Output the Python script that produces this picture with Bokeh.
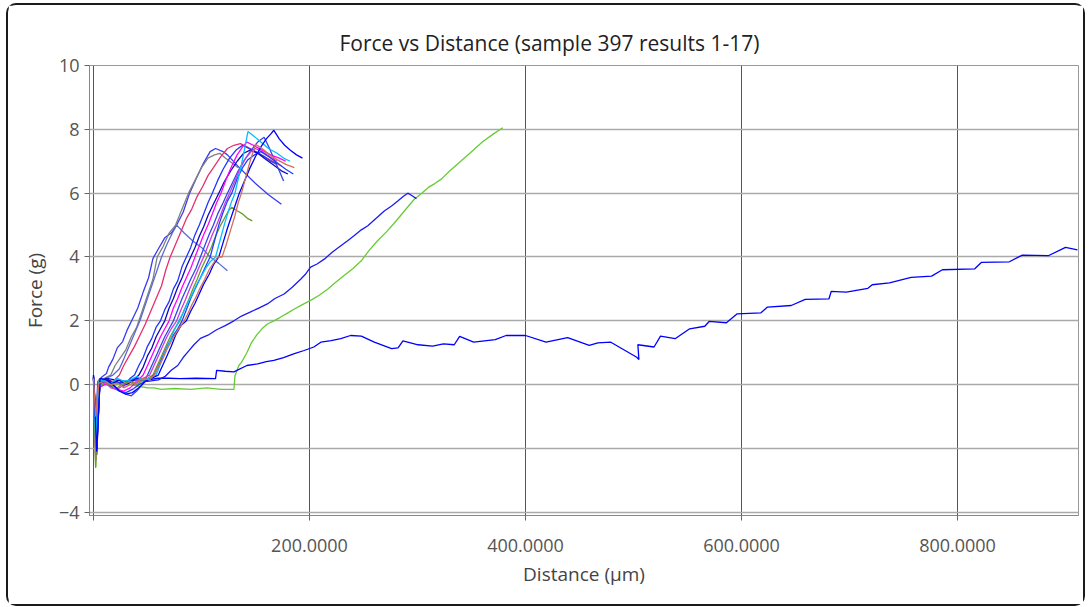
from bokeh.plotting import figure
from bokeh.models import ColumnDataSource, FixedTicker, PrintfTickFormatter, Range1d
from bokeh.embed import file_html
from bokeh.resources import INLINE

TITLE = "Force vs Distance (sample 397 results 1-17)"
X_LABEL = "Distance (µm)"
Y_LABEL = "Force (g)"
X_TICKS = [0, 200, 400, 600, 800]
Y_TICKS = [-4, -2, 0, 2, 4, 6, 8, 10]

# Each result: list of (distance µm, force g)
r01 = [(0, 0.2), (2, -1.2), (4, 0.1), (8, 0.25), (12, 0.35), (14, 0.55), (18, 0.8), (22, 1.15), (27, 1.35),
       (31, 1.7), (36, 2.05), (41, 2.4), (46, 2.9), (51, 3.35), (55, 3.95), (60, 4.25), (66, 4.6), (72, 4.75),
       (77, 5.0), (83, 5.4), (89, 6.0), (95, 6.45), (102, 6.95), (108, 7.3), (113, 7.4), (120, 7.3), (124, 7.2),
       (135, 6.8), (150, 6.3), (162, 5.95), (174, 5.65)]
r02 = [(0, 0.25), (2, -0.9), (5, 0.15), (10, 0.2), (16, 0.3), (20, 0.6), (25, 0.85), (30, 1.1), (35, 1.5),
       (40, 1.8), (45, 2.3), (50, 2.8), (55, 3.3), (59, 4.0), (64, 4.3), (70, 4.75), (76, 5.0), (82, 5.5),
       (88, 6.0), (94, 6.4), (100, 6.8), (106, 7.1), (112, 7.2), (117, 7.25), (122, 7.1), (128, 6.95), (134, 6.8)]
r03 = [(0, 0.2), (3, -1.5), (6, 0.1), (12, 0.2), (18, 0.3), (24, 0.5), (28, 0.8), (33, 1.2), (38, 1.6),
       (43, 2.0), (48, 2.5), (53, 3.0), (58, 3.5), (63, 4.0), (68, 4.4), (73, 4.75), (77, 5.0), (84, 4.75),
       (92, 4.5), (100, 4.3), (108, 4.0), (116, 3.8), (124, 3.57)]
r04 = [(0, 0.2), (3, -2.0), (6, 0.05), (12, 0.15), (18, 0.1), (24, 0.3), (28, 0.6), (33, 0.9), (38, 1.2),
       (43, 1.55), (48, 1.9), (53, 2.3), (58, 2.7), (63, 3.1), (67, 3.6), (71, 4.0), (76, 4.4), (81, 4.8),
       (86, 5.2), (91, 5.5), (96, 5.9), (101, 6.2), (106, 6.55), (112, 6.85), (118, 7.15), (124, 7.4),
       (130, 7.5), (136, 7.55), (142, 7.45), (150, 7.3), (158, 7.15), (166, 7.0), (174, 6.85)]
r05 = [(0, 0.2), (2, -1.6), (5, 0.0), (10, 0.15), (16, 0.05), (22, 0.1), (28, -0.05), (34, 0.2), (38, 0.3),
       (42, 0.6), (46, 0.85), (50, 1.2), (54, 1.45), (58, 1.8), (62, 2.0), (66, 2.35), (70, 2.6), (74, 3.0),
       (78, 3.25), (82, 3.7), (86, 4.0), (90, 4.3), (94, 4.7), (98, 5.0), (102, 5.35), (106, 5.7), (110, 6.0),
       (115, 6.4), (120, 6.75), (126, 7.1), (132, 7.35), (138, 7.5), (144, 7.4), (150, 7.3), (158, 7.15),
       (164, 7.0), (170, 6.9)]
r06 = [(0, 0.25), (3, -2.2), (6, 0.1), (12, 0.2), (18, 0.05), (24, 0.15), (30, 0.0), (36, 0.1), (42, 0.3),
       (46, 0.55), (50, 0.9), (54, 1.15), (58, 1.5), (62, 1.75), (66, 2.0), (70, 2.4), (74, 2.7), (78, 3.05),
       (82, 3.35), (86, 3.7), (90, 4.0), (94, 4.3), (98, 4.65), (102, 4.95), (106, 5.3), (111, 5.65), (116, 6.0),
       (121, 6.35), (127, 6.7), (133, 7.0), (139, 7.25), (145, 7.35), (152, 7.25), (160, 7.05), (168, 6.85),
       (174, 6.7), (180, 6.6)]
r07 = [(0, 0.2), (2, -2.4), (5, -0.1), (10, 0.0), (16, 0.05), (22, -0.15), (28, -0.2), (34, -0.1), (40, 0.1),
       (46, 0.3), (50, 0.6), (54, 0.9), (58, 1.2), (62, 1.5), (66, 1.75), (70, 2.0), (74, 2.4), (78, 2.7),
       (82, 3.05), (86, 3.35), (90, 3.65), (94, 4.0), (98, 4.35), (102, 4.7), (106, 5.0), (110, 5.35), (114, 5.7),
       (118, 6.0), (123, 6.45), (128, 6.85), (133, 7.2), (138, 7.45), (142, 7.6), (148, 7.5), (156, 7.35),
       (164, 7.2), (172, 7.1), (178, 7.0)]
r08 = [(0, 0.3), (3, -1.9), (6, 0.1), (12, 0.05), (18, -0.1), (24, -0.2), (30, -0.3), (35, -0.35), (40, -0.2),
       (45, 0.0), (50, 0.3), (54, 0.6), (58, 0.9), (62, 1.2), (66, 1.5), (70, 1.75), (74, 2.0), (78, 2.35),
       (82, 2.7), (86, 3.0), (90, 3.3), (95, 3.65), (99, 4.0), (103, 4.35), (107, 4.7), (111, 5.0), (115, 5.35),
       (120, 5.7), (124, 6.0), (129, 6.35), (134, 6.7), (140, 7.05), (146, 7.35), (152, 7.6), (158, 7.75),
       (163, 7.4), (168, 7.0), (172, 6.7), (176, 6.38)]
r09 = [(0, 0.15), (2, -2.0), (5, 0.0), (10, 0.1), (16, -0.1), (22, -0.15), (28, 0.0), (34, 0.1), (40, 0.05),
       (46, 0.2), (52, 0.3), (56, 0.6), (60, 0.9), (64, 1.2), (68, 1.5), (72, 1.75), (77, 2.0), (81, 2.35),
       (85, 2.65), (89, 3.0), (93, 3.3), (98, 3.7), (102, 4.0), (106, 4.35), (110, 4.7), (114, 5.0), (118, 5.35),
       (122, 5.7), (126, 6.0), (131, 6.4), (136, 6.8), (141, 7.1), (146, 7.3), (150, 7.4), (156, 7.3),
       (163, 7.15), (170, 7.0)]
r10 = [(0, 0.2), (2, -2.6), (5, -0.05), (10, 0.05), (16, 0.0), (22, -0.1), (28, 0.05), (34, 0.1), (40, 0.0),
       (46, 0.15), (50, 0.2), (55, 0.3), (59, 0.6), (63, 0.9), (67, 1.2), (71, 1.5), (75, 1.75), (80, 2.0),
       (84, 2.35), (88, 2.65), (92, 3.0), (96, 3.3), (100, 3.65), (105, 4.0), (109, 4.3), (113, 4.65),
       (117, 4.95), (121, 5.2), (125, 5.45), (128, 5.56), (133, 5.45), (138, 5.35), (143, 5.2), (147, 5.13)]
r11 = [(0, 0.25), (3, -1.3), (6, 0.05), (12, 0.1), (18, 0.0), (24, -0.2), (30, -0.25), (36, -0.15), (42, 0.0),
       (48, 0.1), (53, 0.2), (57, 0.35), (61, 0.65), (65, 0.95), (69, 1.25), (73, 1.5), (78, 1.75), (82, 2.0),
       (86, 2.35), (90, 2.7), (94, 3.0), (99, 3.35), (103, 3.65), (108, 4.0), (112, 4.5), (116, 5.0), (120, 5.4),
       (124, 5.75), (128, 6.0), (133, 6.45), (138, 6.8), (143, 7.05), (149, 7.2), (155, 7.3), (162, 7.15),
       (170, 6.95), (178, 6.75), (185, 6.6)]
r12 = [(0, 0.2), (2, -1.8), (5, 0.1), (10, 0.15), (16, 0.05), (22, 0.2), (28, 0.1), (34, 0.15), (40, 0.25),
       (46, 0.15), (52, 0.2), (58, 0.3), (62, 0.65), (66, 1.0), (70, 1.3), (74, 1.65), (79, 2.0), (83, 2.25),
       (87, 2.55), (91, 2.8), (95, 3.1), (99, 3.35), (104, 3.65), (108, 3.85), (113, 4.0), (117, 4.5), (121, 5.0),
       (125, 5.45), (128, 5.75), (131, 6.0), (134, 6.45), (137, 6.9), (140, 7.4), (143, 7.93), (148, 7.8),
       (155, 7.6), (162, 7.4), (170, 7.25), (176, 7.1), (182, 7.0)]
r13 = [(0, 0.3), (3, -2.1), (6, 0.2), (12, 0.15), (18, 0.0), (24, -0.2), (30, -0.3), (36, -0.25), (42, -0.1),
       (48, 0.1), (54, 0.2), (60, 0.3), (64, 0.6), (68, 0.9), (72, 1.2), (76, 1.55), (81, 1.85), (86, 2.0),
       (90, 2.3), (94, 2.55), (98, 2.85), (102, 3.15), (107, 3.45), (111, 3.75), (116, 4.0), (120, 4.45),
       (124, 4.9), (128, 5.3), (132, 5.7), (135, 6.0), (140, 6.4), (145, 6.8), (150, 7.15), (155, 7.45),
       (160, 7.7), (164, 7.85), (167, 7.97), (172, 7.7), (177, 7.5), (182, 7.35), (188, 7.2), (193.5, 7.1)]
r14 = [(0, 0.2), (2, -1.0), (5, 0.05), (10, 0.1), (16, 0.0), (22, 0.05), (28, -0.1), (34, 0.0), (40, 0.1),
       (46, 0.2), (52, 0.15), (56, 0.3), (60, 0.55), (64, 0.8), (68, 1.1), (72, 1.35), (76, 1.6), (80, 1.8),
       (84, 2.0), (87, 2.2), (91, 2.5), (95, 2.75), (99, 3.05), (103, 3.3), (107, 3.6), (111, 3.8), (115, 4.0),
       (119, 4.0), (123, 4.4), (127, 4.85), (131, 5.3), (134, 5.7), (137, 6.0), (141, 6.5), (145, 7.0),
       (150, 7.53), (156, 7.4), (163, 7.2), (170, 7.05), (178, 6.9), (186, 6.8)]
r15 = [(0, 0.25), (3, -1.7), (6, 0.1), (12, 0.2), (20, 0.15), (30, 0.1), (40, 0.2), (50, 0.15), (60, 0.2),
       (70, 0.2), (80, 0.19), (95, 0.2), (113, 0.19), (114, 0.45), (122, 0.42), (130, 0.40), (142, 0.6),
       (152, 0.65), (160, 0.72), (167, 0.76), (176, 0.85), (186, 0.97), (195, 1.07), (204, 1.18), (210.5, 1.33),
       (220, 1.38), (229, 1.44), (238, 1.54), (248, 1.52), (260, 1.33), (276, 1.13), (282, 1.15), (286.5, 1.37),
       (300.5, 1.25), (314, 1.21), (324, 1.28), (334, 1.25), (339, 1.51), (352, 1.33), (372, 1.41), (382, 1.54),
       (400, 1.54), (419, 1.33), (439, 1.47), (459, 1.23), (467, 1.31), (479, 1.33), (503, 0.86), (505, 0.79),
       (504, 1.25), (519, 1.18), (525, 1.52), (538.5, 1.44), (552, 1.75), (566, 1.83), (570, 1.98), (586, 1.94),
       (596, 2.22), (618, 2.25), (624, 2.43), (646, 2.48), (659, 2.67), (681, 2.69), (683, 2.92), (697, 2.90),
       (717, 3.02), (721, 3.13), (737, 3.19), (757, 3.36), (776, 3.40), (786, 3.60), (816, 3.63), (822, 3.83),
       (848, 3.85), (860, 4.06), (884, 4.04), (900, 4.30), (911, 4.22)]
r16 = [(0, 0.2), (3, -2.0), (6, 0.1), (12, 0.15), (20, 0.05), (30, 0.1), (40, 0.15), (50, 0.1), (60, 0.15),
       (66, 0.25), (72, 0.45), (78, 0.6), (83, 0.85), (88, 1.05), (93, 1.25), (99, 1.45), (106, 1.55),
       (114, 1.72), (122, 1.85), (130, 2.0), (137, 2.15), (145, 2.27), (153, 2.4), (161, 2.53), (168, 2.7),
       (176.5, 2.84), (184, 3.05), (192, 3.31), (196, 3.45), (201, 3.68), (207, 3.78), (214, 3.94), (221, 4.15),
       (229, 4.35), (235, 4.5), (241.5, 4.67), (248, 4.85), (254, 4.98), (262, 5.22), (269.5, 5.45), (276, 5.6),
       (282, 5.76), (287, 5.9), (291, 6.0), (295, 5.92), (299, 5.83)]
r17 = [(0, 0.2), (2, -2.6), (4, -0.1), (10, 0.0), (18, -0.05), (26, 0.05), (34, 0.0), (42, -0.05), (50, -0.1),
       (56, -0.1), (63, -0.15), (75, -0.12), (90, -0.15), (105, -0.1), (118, -0.15), (130, -0.15), (131, 0.28),
       (134.6, 0.6), (137, 0.7), (142, 1.0), (146, 1.3), (151, 1.55), (156, 1.75), (161, 1.9), (167, 2.0),
       (173, 2.11), (180, 2.25), (186, 2.37), (193, 2.5), (201, 2.64), (209, 2.8), (217, 3.0), (224, 3.2),
       (232, 3.42), (240, 3.63), (248, 3.88), (255, 4.2), (263, 4.51), (271, 4.78), (279, 5.08), (288, 5.45),
       (297, 5.81), (304, 6.0), (310, 6.18), (316, 6.3), (322, 6.44), (330, 6.7), (340, 7.0), (350, 7.3),
       (360, 7.6), (370, 7.85), (379, 8.05)]

results = [r17, r15, r16, r01, r02, r03, r04, r05, r06, r07, r08, r09, r10, r11, r12, r13, r14]
colors = ["#66cc33", "#0000ff", "#1a1af5", "#3a3af0", "#808080", "#5a6bd6", "#e6306e", "#2233ff",
          "#0a0ab8", "#ff00ff", "#3344ee", "#c83cd8", "#6e9b2a", "#1f3fff", "#00bfff", "#0000ff", "#d2705a"]

FONT = "Open Sans"

p = figure(width=1079, height=603, output_backend="svg", toolbar_location=None,
           x_range=Range1d(-3.7, 912), y_range=Range1d(-4.1, 10.0),
           min_border_left=81, min_border_right=9, min_border_top=60, min_border_bottom=93)
p.styles = {"border": "2px solid #1a1a1a", "border-radius": "10px"}
p.margin = (3, 0, 0, 6)

p.title.text = TITLE
p.title.align = "left"
p.title.offset = 250
p.title.text_font = FONT
p.title.text_font_size = "21px"
p.title.text_font_style = "normal"
p.title.text_color = "#222222"
p.title.standoff = 18

for pts, c in zip(results, colors):
    src = ColumnDataSource(dict(x=[a for a, b in pts], y=[b for a, b in pts]))
    p.line("x", "y", source=src, line_color=c, line_width=1.3)

p.xaxis.ticker = FixedTicker(ticks=X_TICKS)
p.xaxis.formatter = PrintfTickFormatter(format="%.4f")
p.xaxis.major_label_overrides = {0: ""}
p.yaxis.ticker = FixedTicker(ticks=Y_TICKS)
p.xaxis.axis_label = X_LABEL
p.yaxis.axis_label = Y_LABEL
for ax in (p.xaxis[0], p.yaxis[0]):
    ax.axis_line_color = "#888888"
    ax.major_tick_line_color = "#666666"
    ax.major_tick_out = 5
    ax.major_tick_in = 0
    ax.minor_tick_line_color = None
    ax.major_label_text_font = FONT
    ax.major_label_text_font_size = "18px"
    ax.major_label_text_color = "#555555"
    ax.axis_label_text_font = FONT
    ax.axis_label_text_font_size = "19px"
    ax.axis_label_text_font_style = "normal"
    ax.axis_label_text_color = "#444444"
p.xaxis.major_label_standoff = 18
p.xaxis.axis_label_standoff = 6
p.yaxis.axis_label_standoff = 8

p.xgrid.grid_line_color = "#555555"
p.xgrid.grid_line_width = 1
p.ygrid.grid_line_color = "#aaaaaa"
p.ygrid.grid_line_width = 1.3
p.outline_line_color = "#999999"
p.background_fill_color = "white"

open("out.html", "w").write(file_html(p, INLINE))
